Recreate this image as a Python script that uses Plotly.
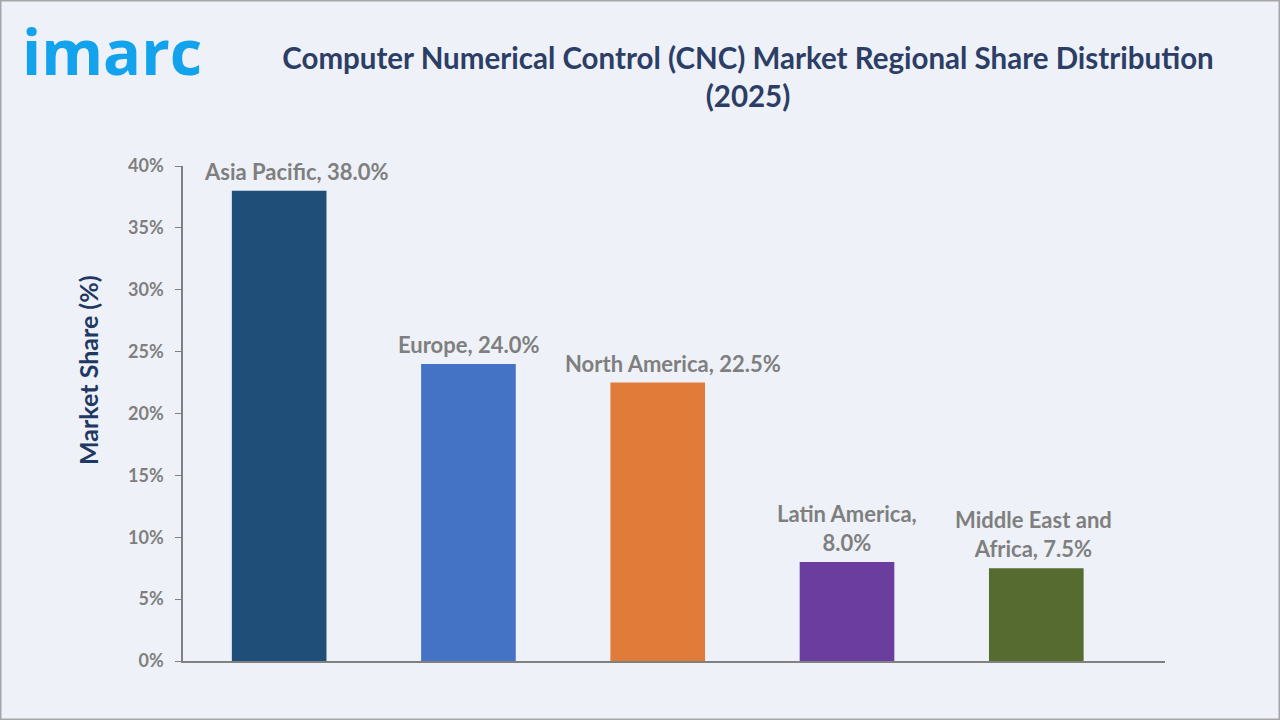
import plotly.graph_objects as go

categories = ["Asia Pacific", "Europe", "North America", "Latin America", "Middle East and Africa"]
shares = [38.0, 24.0, 22.5, 8.0, 7.5]
y_ticks = [0, 5, 10, 15, 20, 25, 30, 35, 40]
y_tick_labels = [f"{t}%" for t in y_ticks]

colors = ["#1F4E79", "#4472C4", "#E07B39", "#6B3D9E", "#556B2F"]
label_breaks = {"Latin America": "Latin America,<br>", "Middle East and Africa": "Middle East and<br>Africa, "}
label_xshift = [17, 1, 15, 0, -3]

W, H = 1280, 720
L, R, T, B = 183, 115, 166, 59
PW, PH = W - L - R, H - T - B

fig = go.Figure()
fig.add_trace(go.Bar(
    x=list(range(len(categories))), y=shares,
    marker=dict(color=colors, line=dict(width=0)),
    width=0.5, hoverinfo="skip", showlegend=False,
))

font_family = "Lato, 'Open Sans', sans-serif"
for i, (c, v) in enumerate(zip(categories, shares)):
    if c in label_breaks:
        txt = f"{label_breaks[c]}{v:.1f}%"
    else:
        txt = f"{c}, {v:.1f}%"
    fig.add_annotation(x=i, y=v, text=txt, showarrow=False, yanchor="bottom",
                       xshift=label_xshift[i], yshift=4,
                       font=dict(family=font_family, size=22, color="#7F7F7F", weight="bold"))

fig.update_layout(
    width=W, height=H,
    paper_bgcolor="#EEF2F8", plot_bgcolor="#EEF2F8",
    margin=dict(l=L, r=R, t=T, b=B),
    title=dict(text="Computer Numerical Control (CNC) Market Regional Share Distribution<br>(2025)",
               x=748 / W, xanchor="center", y=1 - 69 / H, yanchor="top",
               font=dict(family=font_family, size=29.5, color="#2C3E66", weight="bold")),
    xaxis=dict(range=[-0.508, 4.68], showticklabels=False, showgrid=False, zeroline=False,
               showline=True, linecolor="#808080", linewidth=1.5, ticks=""),
    yaxis=dict(range=[0, 40], tickvals=y_ticks, ticktext=y_tick_labels, showgrid=False,
               zeroline=False, showline=True, linecolor="#808080", linewidth=1.5,
               ticks="outside", ticklen=6, tickcolor="#808080", ticklabelstandoff=8,
               tickfont=dict(family=font_family, size=18, color="#7F7F7F", weight="bold")),
)

# y-axis title
fig.add_annotation(xref="paper", yref="paper", x=(88 - L) / PW, y=(H - B - 370) / PH,
                   xanchor="center", yanchor="middle", textangle=-90,
                   text="Market Share (%)", showarrow=False,
                   font=dict(family=font_family, size=25, color="#1F3864", weight="bold"))

# logo text
fig.add_annotation(xref="paper", yref="paper", x=(20 - L) / PW, y=1 + (T - 6) / PH,
                   xanchor="left", yanchor="top", text="imarc", showarrow=False,
                   font=dict(family="'Open Sans', sans-serif", size=63, color="#12A3EC", weight="bold"))

# outer border
fig.add_shape(type="rect", xref="paper", yref="paper",
              x0=-L / PW, x1=1 + R / PW, y0=-B / PH, y1=1 + T / PH,
              line=dict(color="#A6A6A6", width=3), fillcolor="rgba(0,0,0,0)", layer="above")

fig.write_html("out.html")
